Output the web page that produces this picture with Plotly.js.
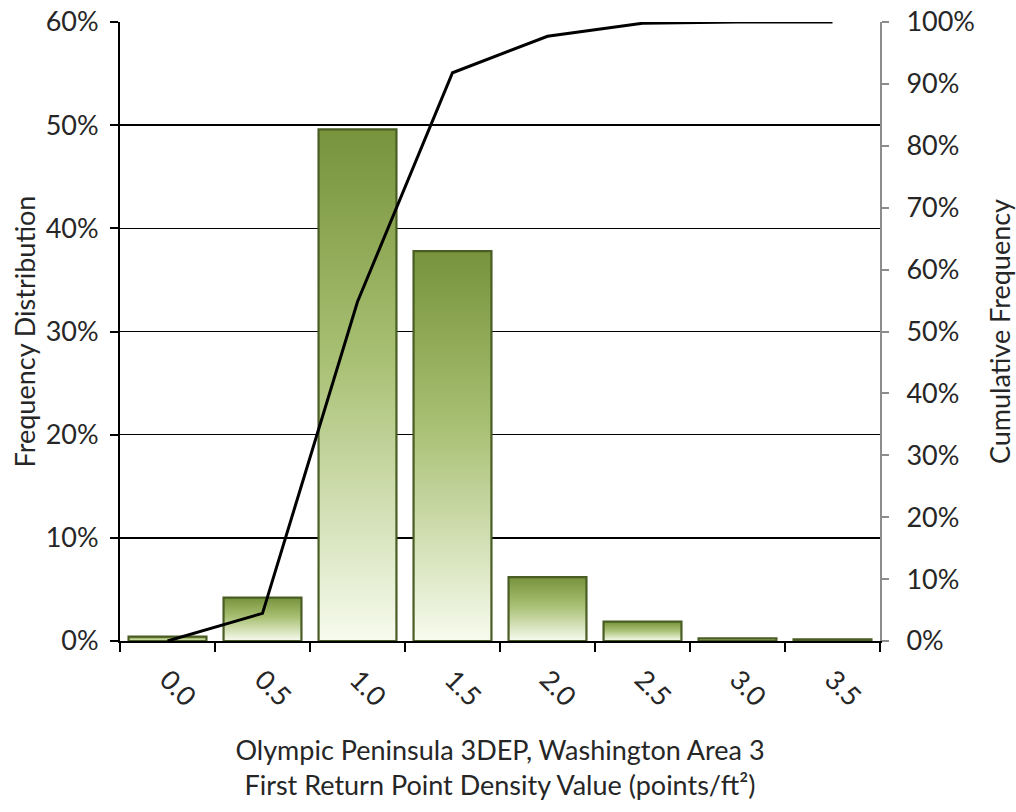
<!DOCTYPE html>
<html>
<head>
<meta charset="utf-8">
<script src="https://cdn.plot.ly/plotly-3.0.1.min.js"></script>
<style>
html,body{margin:0;padding:0;background:#fff;}
#chart{width:1016px;height:812px;}
</style>
</head>
<body>
<div id="chart"></div>
<script>
const categories = ["0.0","0.5","1.0","1.5","2.0","2.5","3.0","3.5"];
const frequency = [0.0042, 0.042, 0.496, 0.378, 0.062, 0.0187, 0.0026, 0.0016];
const cumulative = [0.0, 0.0447, 0.548, 0.918, 0.977, 0.998, 1.0, 1.0];

const FONT = "Lato, 'Open Sans', sans-serif";
const TXT = "#262626";
const FS = 27;

const bars = {
  type: "bar",
  x: categories,
  y: frequency,
  marker: {color: "#8aa84b", line: {color: "#4a5d24", width: 2.2}},
  hoverinfo: "skip",
  showlegend: false
};
const line = {
  type: "scatter",
  mode: "lines",
  x: categories,
  y: cumulative,
  yaxis: "y2",
  line: {color: "#000000", width: 3},
  hoverinfo: "skip",
  showlegend: false
};

const layout = {
  width: 1016, height: 812,
  margin: {l: 120, r: 136, t: 22, b: 171},
  paper_bgcolor: "#ffffff",
  plot_bgcolor: "#ffffff",
  font: {family: FONT, size: FS, color: TXT},
  bargap: 0.18,
  xaxis: {
    type: "category",
    tickson: "boundaries",
    ticks: "outside", ticklen: 9, tickwidth: 2, tickcolor: "#000",
    ticklabelstandoff: 10,
    showline: true, linecolor: "#000", linewidth: 2,
    showgrid: false,
    tickangle: 45,
    tickfont: {family: FONT, size: FS, color: TXT},
    title: {text: "Olympic Peninsula 3DEP, Washington Area 3<br>First Return Point Density Value (points/ft²)",
            font: {family: FONT, size: FS, color: TXT}, standoff: 30}
  },
  yaxis: {
    range: [0, 0.6], dtick: 0.1, tickformat: ".0%",
    showline: true, linecolor: "#000", linewidth: 2,
    ticks: "outside", ticklen: 8, tickwidth: 2, tickcolor: "#000",
    ticklabelstandoff: 6,
    showgrid: true, gridcolor: "#000", gridwidth: 1.5,
    zeroline: false,
    tickfont: {family: FONT, size: FS, color: TXT},
    title: {text: "Frequency Distribution", font: {family: FONT, size: FS, color: TXT}, standoff: 2}
  },
  yaxis2: {
    overlaying: "y", side: "right",
    range: [0, 1], dtick: 0.1, tickformat: ".0%",
    showline: true, linecolor: "#8c8c8c", linewidth: 2,
    ticks: "outside", ticklen: 7, tickwidth: 2, tickcolor: "#8c8c8c",
    ticklabelstandoff: 12,
    showgrid: false, zeroline: false,
    tickfont: {family: FONT, size: FS, color: TXT},
    title: {text: "Cumulative Frequency", font: {family: FONT, size: FS, color: TXT}, standoff: 17}
  }
};

function applyGradient(){
  const svg = document.querySelector("#chart .main-svg");
  if(!svg) return;
  let defs = svg.querySelector("defs");
  if(!defs){ defs = document.createElementNS("http://www.w3.org/2000/svg","defs"); svg.insertBefore(defs, svg.firstChild); }
  if(!document.getElementById("barGrad")){
    const g = document.createElementNS("http://www.w3.org/2000/svg","linearGradient");
    g.setAttribute("id","barGrad");
    g.setAttribute("x1","0"); g.setAttribute("y1","0");
    g.setAttribute("x2","0"); g.setAttribute("y2","1");
    [["0","#77933c"],["0.45","#a8c073"],["1","#f7fbee"]].forEach(s=>{
      const st = document.createElementNS("http://www.w3.org/2000/svg","stop");
      st.setAttribute("offset", s[0]); st.setAttribute("stop-color", s[1]);
      g.appendChild(st);
    });
    defs.appendChild(g);
  }
  document.querySelectorAll("#chart .barlayer .point path").forEach(p=>{
    p.style.fill = "url(#barGrad)";
  });
}

Plotly.newPlot("chart", [bars, line], layout, {staticPlot: true}).then(applyGradient);
</script>
</body>
</html>
